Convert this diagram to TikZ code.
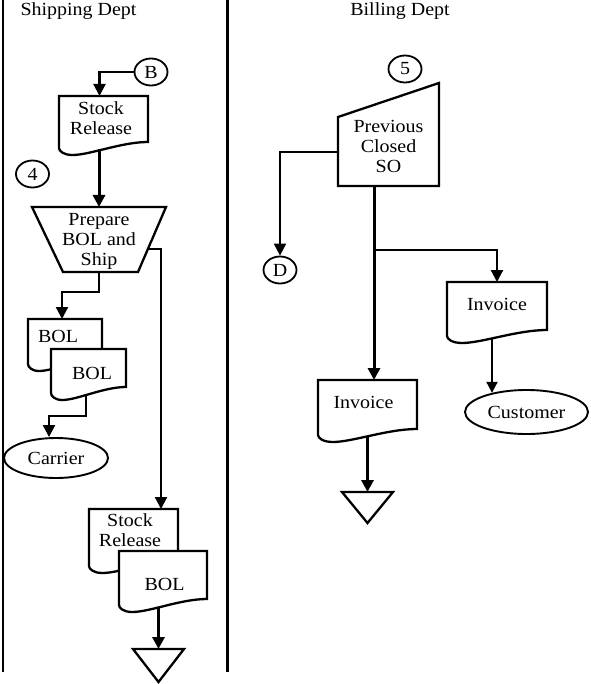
\documentclass[tikz,border=0pt]{standalone}
\usepackage{fontspec}
\setmainfont{Liberation Serif}[FakeStretch=1.08]
\usetikzlibrary{arrows.meta,calc,shapes.geometric,backgrounds}
\tikzset{
  ln/.style={line width=2.3pt},
  txt/.style={font=\fontsize{18.5}{20}\selectfont, align=center, inner sep=0pt},
  shp/.style={draw=none, inner sep=0pt, outer sep=0pt},
  arr/.style={line width=2.2pt, -{Triangle[length=12pt,width=12pt]}},
  thickarr/.style={line width=3pt, -{Triangle[length=12pt,width=12pt]}},
  thinarr/.style={line width=1.8pt, -{Triangle[length=11pt,width=11pt]}},
  circ/.style={draw, ellipse, line width=1.8pt, minimum width=33pt, minimum height=27pt, inner sep=0pt, txt},
  oval/.style={draw, ellipse, line width=1.9pt, inner sep=0pt, txt},
}
\newcommand\docdraw[1]{%
  \filldraw[fill=white, ln, line join=miter] let \p1=(#1.south west), \p2=(#1.north east) in
  ({\x1},{\y1-6pt}) -- ({\x1},{\y2}) -- ({\x2},{\y2}) -- ({\x2},{\y1})
  .. controls ({\x2-0.3*(\x2-\x1)},{\y1}) and ({\x1+0.35*(\x2-\x1)},{\y1-13pt}) .. ({\x1+0.15*(\x2-\x1)},{\y1-13pt})
  .. controls ({\x1+0.05*(\x2-\x1)},{\y1-13pt}) and ({\x1},{\y1-9pt}) .. ({\x1},{\y1-6pt}) -- cycle;}
\begin{document}
\begin{tikzpicture}[x=1pt,y=-1pt]
\useasboundingbox (0,0) rectangle (590,684);
% lanes
\draw[ln] (3,0) -- (3,672);
\draw[ln] (227.5,0) -- (227.5,672);
\node[txt, anchor=base] (t1) at (78.5,16) {Shipping Dept};
\node[txt, anchor=base] (t2) at (400,16) {Billing Dept};

% shipping nodes
\node[circ] (B) at (151,72) {B};
\node[circ] (c4) at (32.5,174) {4};
\node[shp, minimum width=89pt, minimum height=46pt,
  label={[txt,xshift=-2.5pt,yshift=1pt]center:{Stock\\Release}}] (sr1) at (103.5,119) {};
\node[shp, minimum width=134pt, minimum height=65pt,
  label={[txt,yshift=-1.5pt]center:{Prepare\\BOL and\\Ship}}] (prep) at (99,239.5) {};
\node[shp, minimum width=74pt, minimum height=39pt,
  label={[txt,xshift=-7pt,yshift=2.5pt]center:{BOL}}] (bol1) at (65,338.5) {};
\node[shp, minimum width=75pt, minimum height=38pt,
  label={[txt,xshift=3.5pt,yshift=-5pt]center:{BOL}}] (bol2) at (88.5,368) {};
\node[oval, minimum width=104pt, minimum height=40pt] (carrier) at (56,458) {Carrier};
\node[shp, minimum width=89pt, minimum height=51pt,
  label={[txt,xshift=-3.5pt,yshift=4.5pt]center:{Stock\\Release}}] (sr2) at (133.5,534.5) {};
\node[shp, minimum width=88pt, minimum height=48pt,
  label={[txt,xshift=1.5pt,yshift=-9pt]center:{BOL}}] (bol3) at (163,575) {};
\node[shp, minimum width=51pt, minimum height=33pt] (tri1) at (158.5,665.5) {};

% billing nodes
\node[circ] (c5) at (405,69) {5};
\node[shp, minimum width=101pt, minimum height=103pt,
  label={[txt,yshift=-11.5pt]center:{Previous\\Closed\\SO}}] (prev) at (388.5,134.5) {};
\node[circ] (D) at (280,270) {D};
\node[shp, minimum width=100pt, minimum height=48pt,
  label={[txt,yshift=1.3pt]center:{Invoice}}] (inv1) at (497,306) {};
\node[oval, minimum width=123pt, minimum height=44pt] (cust) at (526.5,412) {Customer};
\node[shp, minimum width=99pt, minimum height=49pt,
  label={[txt,xshift=-4pt,yshift=2pt]center:{Invoice}}] (inv2) at (367.5,404.5) {};
\node[shp, minimum width=51pt, minimum height=31pt] (tri2) at (367.5,507.5) {};

% shapes
\begin{scope}[on background layer]
\docdraw{sr1}
\filldraw[fill=white, ln] (prep.north west) -- (prep.north east) -- ([xshift=-28pt]prep.south east) -- ([xshift=31pt]prep.south west) -- cycle;
\docdraw{bol1}
\docdraw{bol2}
\docdraw{sr2}
\docdraw{bol3}
\draw[ln] (tri1.north west) -- (tri1.north east) -- (tri1.south) -- cycle;
\filldraw[fill=white, ln] ([yshift=-34pt]prev.north west) -- (prev.north east) -- (prev.south east) -- (prev.south west) -- cycle;
\docdraw{inv1}
\docdraw{inv2}
\draw[ln] (tri2.north west) -- (tri2.north east) -- (tri2.south) -- cycle;
\end{scope}

% connectors
\draw[arr] (B.west) -| ([xshift=-4pt]sr1.north);
\draw[thickarr] ([yshift=-7pt]prep.north |- sr1.south) -- (prep.north);
\draw[arr] (prep.south) -- ++(0,20) -| ([xshift=-3pt]bol1.north);
\coordinate (pr) at ($(prep.north east)!0.646!([xshift=-28pt]prep.south east)$);
\draw[arr] (pr) -| ([xshift=27.5pt]sr2.north);
\draw[arr] ([xshift=-2.5pt,yshift=-7pt]bol2.south) -- ++(0,22) -| ([xshift=-7pt]carrier.north);
\draw[thickarr] ([yshift=-8pt]tri1.north |- bol3.south) -- (tri1.north);

\draw[arr] ([yshift=-17.5pt]prev.west) -| (D.north);
\draw[thickarr] ([xshift=-14.5pt]prev.south) -- ([xshift=6.5pt]inv2.north);
\path ([xshift=-14.5pt]prev.south) ++(0,64) coordinate (br);
\draw[arr] (br) -| (inv1.north);
\draw[thinarr] ([yshift=-8pt]inv1.south -| cust.151) -- (cust.151);
\draw[thickarr] ([yshift=-7pt]tri2.north |- inv2.south) -- (tri2.north);
\end{tikzpicture}
\end{document}
